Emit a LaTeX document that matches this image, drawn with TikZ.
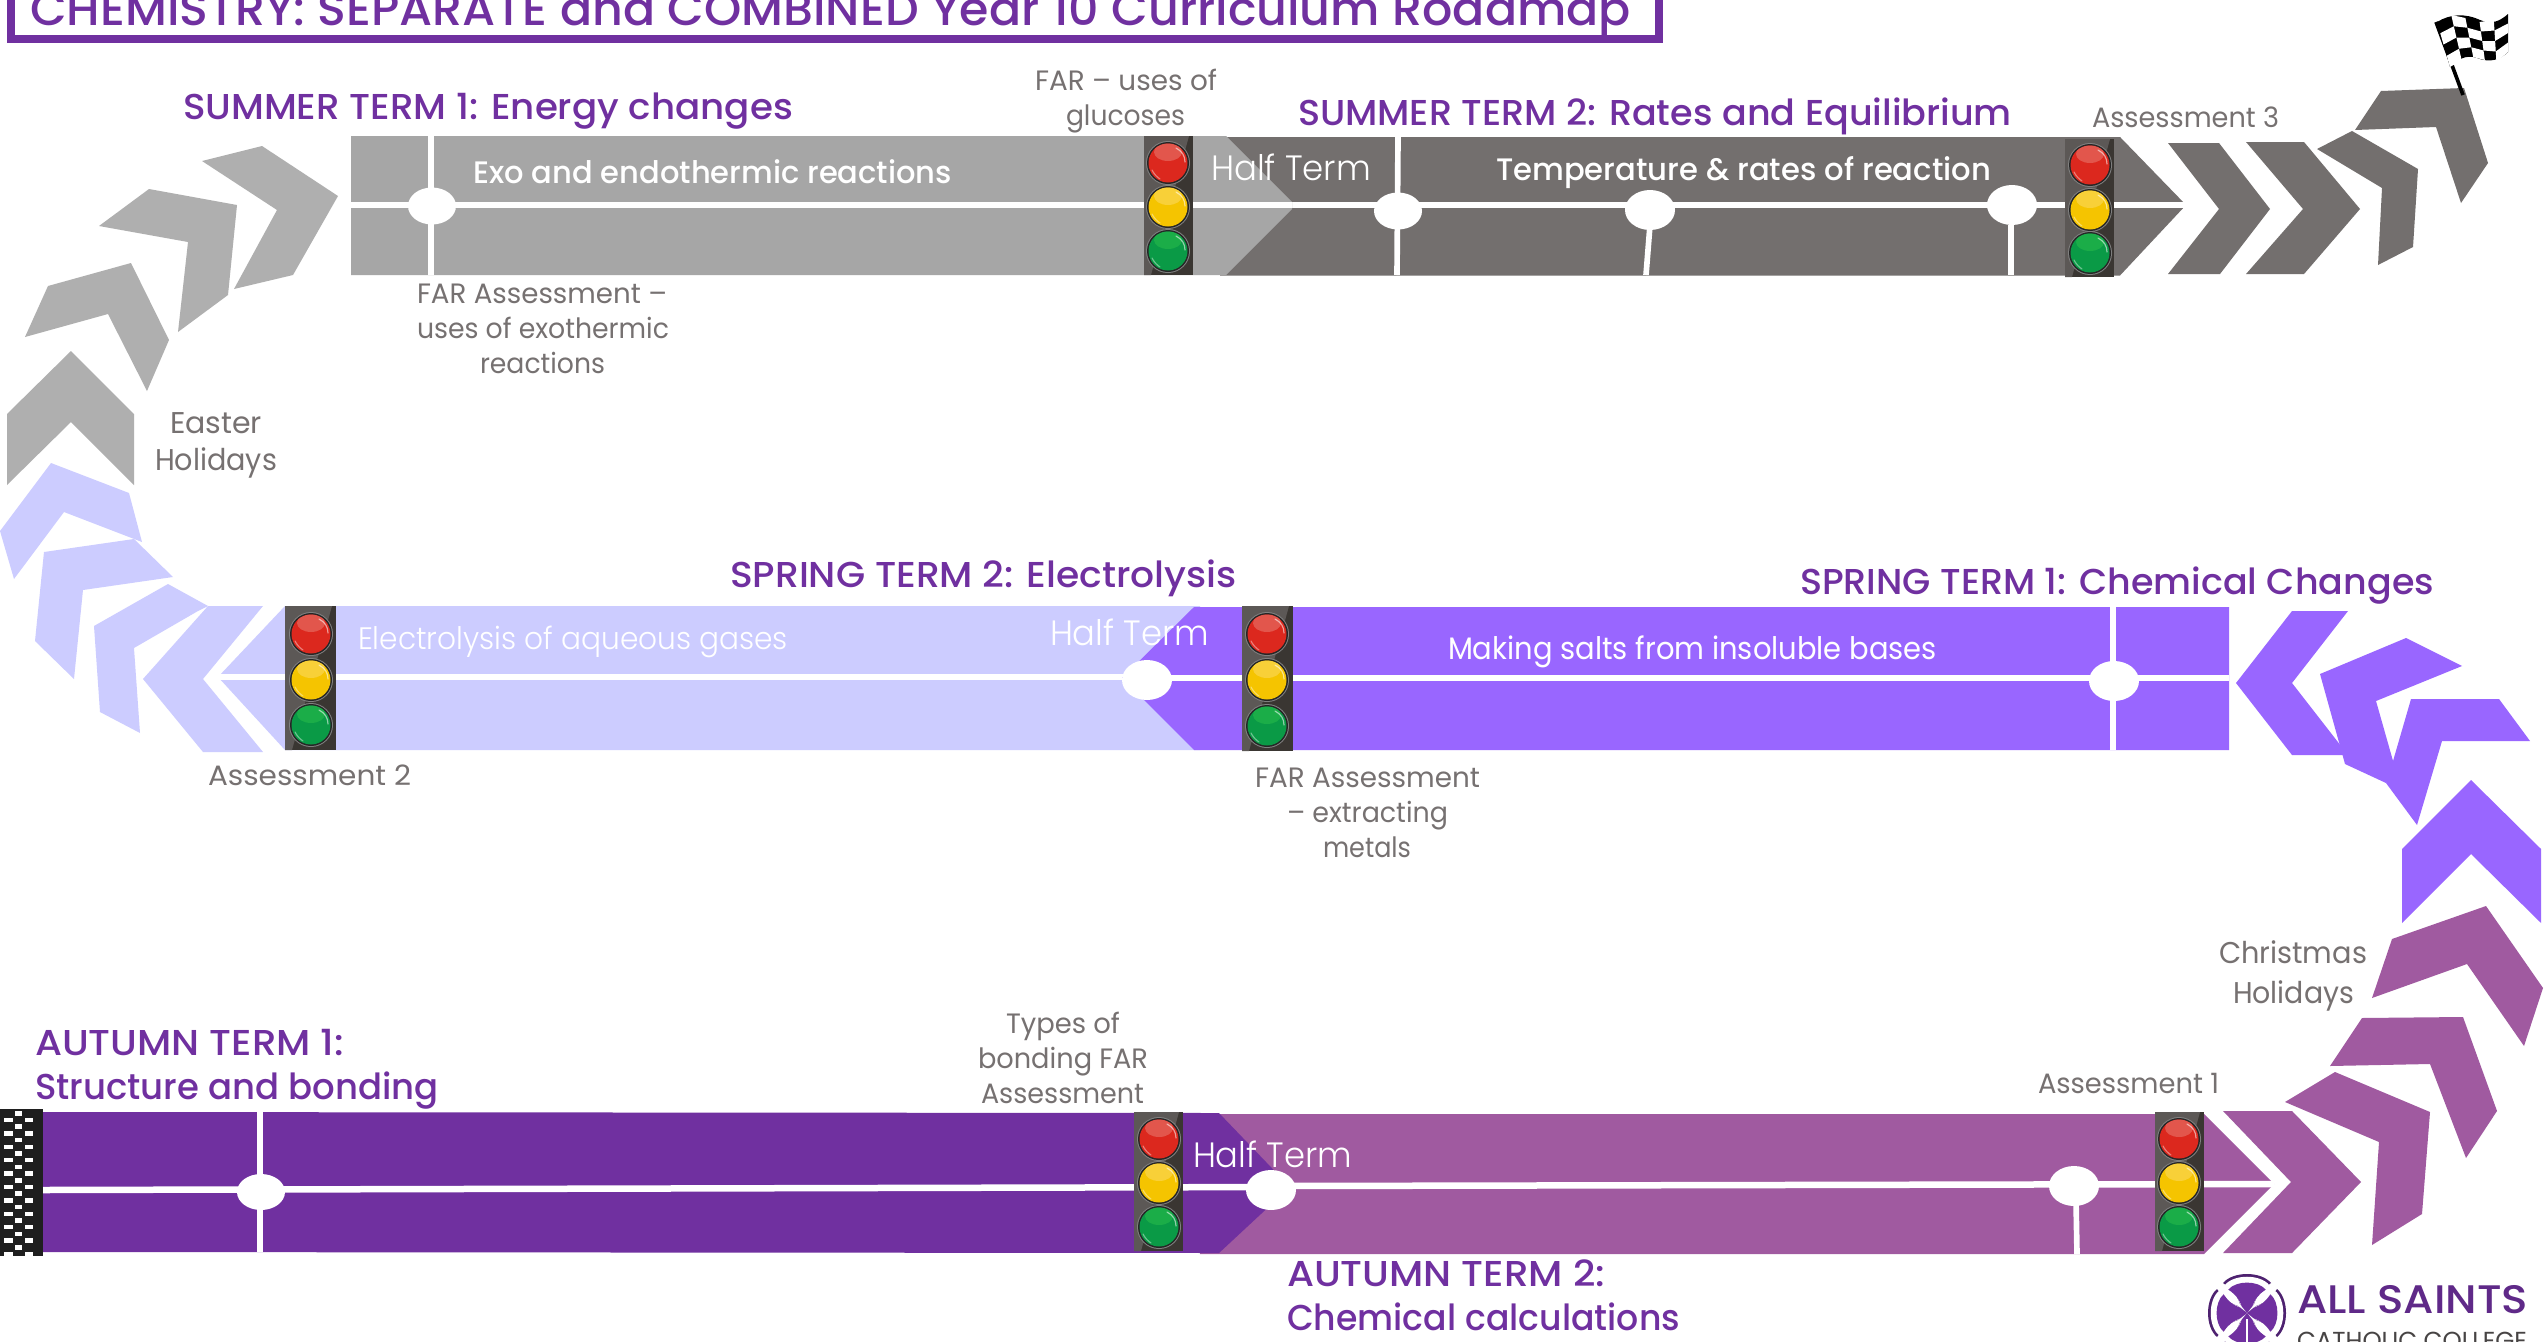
\documentclass[tikz,border=0pt]{standalone}
\usepackage{fontspec}
\usepackage{graphicx}
\setmainfont{Poppins}
\newfontfamily\medfont{Poppins Medium}
\newfontfamily\lightfont{Poppins Light}
\newlength{\pxu}\setlength{\pxu}{0.03cm}
\definecolor{headc}{HTML}{7030A0}
\definecolor{notec}{HTML}{767171}
\definecolor{sumA}{HTML}{A6A6A6}
\definecolor{chevA}{HTML}{AFAFAF}
\definecolor{sumB}{HTML}{736F6E}
\definecolor{sprA}{HTML}{CCCCFF}
\definecolor{sprB}{HTML}{9966FF}
\definecolor{autA}{HTML}{7030A0}
\definecolor{autB}{HTML}{A05AA0}
\definecolor{tlLeft}{HTML}{5C5856}
\definecolor{tlRight}{HTML}{3A3632}
\tikzset{
  lbl/.style={anchor=base west,inner sep=0pt,outer sep=0pt},
  heading/.style={lbl,text=headc,font=\medfont\fontsize{30.7pt}{32pt}\selectfont},
  note/.style={lbl,text=notec,font=\fontsize{23.9pt}{25pt}\selectfont},
  bigNote/.style={lbl,text=notec,font=\fontsize{25.6pt}{27pt}\selectfont},
  whiteMed/.style={lbl,text=white,font=\medfont\fontsize{26.5pt}{28pt}\selectfont},
  whiteReg/.style={lbl,text=white,font=\fontsize{26.5pt}{28pt}\selectfont},
  whiteLight/.style={lbl,text=white,font=\lightfont\fontsize{26.5pt}{28pt}\selectfont},
  halfterm/.style={lbl,text=white,font=\lightfont\fontsize{30pt}{32pt}\selectfont},
  gapline/.style={draw=white,line width=1.95mm},
  thinline/.style={draw=white,line width=1.7mm},
  stop/.style={fill=white,draw=none},
}
% text fitted to a measured width: name, left, right, baseline, text
\newcommand{\fitlbl}[6]{\node[#1] (#2) at (#3,{#5+1}) {\resizebox{\fpeval{#4-#3}\pxu}{\height}{#6}};}
% traffic light: left, right, top, bottom, centre x, three light ys
\newcommand{\tlight}[8]{%
  \fill[tlRight] (#1,#3) rectangle (#2,#4);
  \fill[tlLeft] (#1,#3) -- ({#2-4},#3) -- ({#1+7},#4) -- (#1,#4) -- cycle;
  \lamp{#5}{#6}{DC281E}{E2564C}
  \lamp{#5}{#7}{F5C400}{F8D038}
  \lamp{#5}{#8}{0A9A46}{1BAD48}
}
\newcommand{\lamp}[4]{%
  \fill[gray] (#1,#2) circle [radius=22];
  \fill[black!85] (#1,#2) circle [radius=21];
  \definecolor{lampc}{HTML}{#3}\definecolor{lamph}{HTML}{#4}
  \fill[lampc] (#1,#2) circle [radius=19.5];
  \begin{scope}
    \clip (#1,#2) circle [radius=19.5];
    \fill[lamph] (#1,{#2-11}) ellipse [x radius=14,y radius=9];
  \end{scope}
  \draw[white,opacity=.55,line width=0.35mm,line cap=round] ({#1+8},{#2-15}) .. controls ({#1+14},{#2-12}) and ({#1+17},{#2-7}) .. ({#1+17},{#2-1});
  \draw[white,opacity=.4,line width=0.35mm,line cap=round] ({#1-16},{#2+7}) .. controls ({#1-14},{#2+11}) and ({#1-11},{#2+14}) .. ({#1-8},{#2+16});
}
% flag cloth point: column boundary index, row position
\newcommand{\flagpt}[2]{({2437+14.2*#1+(13-2.6*#1)*#2/4},{{22,15,18,22,20,14}[#1]+({67,60,57,60,62,52}[#1]-{22,15,18,22,20,14}[#1])*#2/4})}
% arm of the college cross, pointing up from the origin
\newcommand{\crossarm}{(0,0) -- (-7,-9) .. controls (-10,-18) and (-15,-24) .. (-24,-30) .. controls (-14,-42) and (14,-42) .. (24,-30) .. controls (15,-24) and (10,-18) .. (7,-9) -- cycle}
\begin{document}
\begin{tikzpicture}[x=0.03cm,y=-0.03cm]
\useasboundingbox (0,0) rectangle (2547,1341);
\clip (0,0) rectangle (2547,1341);
\fill[white] (0,0) rectangle (2547,1341);

% title
\draw[headc,line width=2.4mm] (11,-40) rectangle (1658.5,38.5);
\fitlbl{lbl,text=headc,font=\medfont\fontsize{39.5pt}{41pt}\selectfont}{title}{30}{1631}{24}{CHEMISTRY: SEPARATE and COMBINED Year 10 Curriculum Roadmap}

% ---------- SUMMER ----------
\fill[chevA] (202,161)--(262,146)--(338,196)--(293,275)--(234,289)--(277,210)--cycle;
\fill[chevA] (99,226)--(149,189)--(237,205)--(228,295)--(178,332)--(188,242)--cycle;
\fill[chevA] (25,337)--(48,286)--(131,263)--(169,340)--(147,391)--(108,314)--cycle;
\fill[chevA] (7,414)--(71,351)--(134,414)--(134,485)--(71,422)--(7,485)--cycle;

\fill[sumB] (1220,137)--(2120,137)--(2186,205)--(2120,275.5)--(1220,275.5)--cycle;
\draw[gapline] (1290,205)--(2200,205);
\fill[sumA] (351,136)--(1226,136)--(1292,202)--(1292,209)--(1226,275)--(351,275)--cycle;
\draw[gapline] (351,205)--(1292,205);
\draw[thinline] (431,136)--(431,275);
\fill[stop] (432,206) ellipse [x radius=24,y radius=18.5];
\draw[thinline] (1398,137)--(1397,275);
\fill[stop] (1398,211) ellipse [x radius=24,y radius=18.5];
\draw[thinline] (1650,225)--(1646,275);
\fill[stop] (1650,210) ellipse [x radius=25,y radius=20];
\draw[thinline] (2011,225)--(2011,275);
\fill[stop] (2012,205) ellipse [x radius=25,y radius=20];
\tlight{1144}{1193}{136}{275}{1168}{163}{207}{251}
\tlight{2065}{2114}{139}{277}{2090}{165}{210}{253}

\fill[sumB] (2168,143)--(2219,143)--(2270,209)--(2220,274)--(2168,274)--(2219,209)--cycle;
\fill[sumB] (2246,142)--(2304,142)--(2360,209)--(2304,274)--(2246,274)--(2303,209)--cycle;
\fill[sumB] (2317,149)--(2352,131)--(2418,169)--(2413,247)--(2378,265)--(2382,188)--cycle;
\fill[sumB] (2355,130)--(2381,91)--(2464,88)--(2488,163)--(2461,203)--(2436,127)--cycle;

% flag
\draw[black,line width=1.1mm] (2436,22)--(2463,95);
\fill[black] (2437,22) .. controls (2450,14) and (2465,13) .. (2480,20) .. controls (2492,25) and (2500,21) .. (2508,14) -- (2508,52) .. controls (2500,60) and (2490,63) .. (2477,58) .. controls (2466,54) and (2457,60) .. (2450,67) -- cycle;
\foreach \c in {0,...,4}{
  \foreach \r in {0,...,3}{
    \pgfmathtruncatemacro{\odd}{mod(\c+\r,2)}
    \pgfmathtruncatemacro{\cn}{\c+1}
    \pgfmathtruncatemacro{\rn}{\r+1}
    \ifnum\odd=1
      \fill[white] \flagpt{\c}{\r} -- \flagpt{\cn}{\r} -- \flagpt{\cn}{\rn} -- \flagpt{\c}{\rn} -- cycle;
    \fi
  }
}

% ---------- SPRING ----------
\fill[sprA] (0,531)--(51,463)--(129,493)--(142,542)--(64,512)--(14,579)--cycle;
\fill[sprA] (44,552)--(134,539)--(173,577)--(83,590)--(74,679)--(35,641)--cycle;
\fill[sprA] (94,626)--(168,584)--(208,606)--(198,611)--(134,648)--(140,733)--(100,712)--cycle;
\fill[sprA] (143,679)--(208,606)--(263,606)--(203,679)--(263,752)--(203,752)--cycle;

\fill[sprA] (218,677)--(285,606)--(1200,606)--(1200,750)--(285,750)--cycle;
\draw[gapline] (218,677)--(1130,677);
\fill[sprB] (1122,678)--(1194,607)--(2229,607)--(2229,750)--(1194,750)--cycle;
\draw[gapline] (1130,678)--(2229,678);
\draw[thinline] (2113,607)--(2113,750);
\fill[stop] (2114,681) ellipse [x radius=25,y radius=20];
\fill[stop] (1147,680) ellipse [x radius=25,y radius=20];
\tlight{285}{336}{606}{750}{311}{634}{680}{725}
\tlight{1242}{1293}{606}{751}{1267}{634}{680}{726}

\fill[sprB] (2236,683)--(2292,611)--(2348,611)--(2292,683)--(2348,755)--(2292,755)--cycle;
\fill[sprB] (2320,674)--(2406,638)--(2462,666)--(2376,701)--(2395,768)--(2386,783)--(2345,764)--cycle;
\fill[sprB] (2411,699)--(2499,699)--(2530,741)--(2442,741)--(2417,825)--(2386,783)--(2393,761)--cycle;
\fill[sprB] (2402,849)--(2471,780)--(2541,849)--(2541,923)--(2471,854)--(2402,923)--cycle;

% ---------- AUTUMN ----------
\fill[autB] (2392,939)--(2486,906)--(2543,988)--(2524,1046)--(2467,964)--(2372,998)--cycle;
\fill[autB] (2330,1066)--(2362,1018)--(2463,1017)--(2497,1111)--(2466,1158)--(2430,1064)--cycle;
\fill[autB] (2285,1102)--(2335,1072)--(2430,1112)--(2422,1214)--(2372,1245)--(2379,1142)--cycle;
\fill[autB] (2223,1111)--(2292,1111)--(2361,1182)--(2292,1253)--(2223,1253)--(2291,1182)--cycle;

\fill[autB] (1200,1114)--(2204,1114)--(2274,1184)--(2204,1254)--(1200,1254)--cycle;
\draw[gapline] (1280,1186)--(2274,1184);
\fill[autA] (43,1112)--(1219,1113)--(1290,1187)--(1219,1253)--(43,1252)--cycle;
\draw[gapline] (43,1190)--(1285,1187);
\draw[thinline] (260,1112)--(260,1252);
\fill[stop] (261,1192) ellipse [x radius=24,y radius=18];
\fill[stop] (1271,1190) ellipse [x radius=25,y radius=20];
\draw[thinline] (2076,1200)--(2077,1254);
\fill[stop] (2074,1186) ellipse [x radius=25,y radius=20];
\tlight{1134}{1183}{1112}{1251}{1159}{1139}{1183}{1227}
\tlight{2155}{2204}{1112}{1251}{2179}{1139}{1183}{1227}

% chequered start strip
\fill[black!88] (0,1109) rectangle (43,1256);
\foreach \r in {0,...,10}{
  \pgfmathsetmacro{\ya}{1111+\r*13.4}
  \fill[white] (14.5,\ya) rectangle (22,{\ya+4.5});
  \fill[white] (4,{\ya+6.7}) rectangle (13,{\ya+11.2});
  \fill[white] (25,{\ya+6.7}) rectangle (33,{\ya+11.2});
}

% logo
\begin{scope}[shift={(2247,1313)}]
  \foreach \a in {0,90,180,270}{\fill[headc!70!black,rotate=\a] \crossarm;}
  \foreach \a in {0,90,180,270}{\fill[white,rotate=\a,scale=0.93] \crossarm;}
  \foreach \a in {0,90,180,270}{\fill[headc,rotate=\a,scale=0.78] \crossarm;}
  \draw[white,line width=0.4mm] (0,6)--(0,40);
\end{scope}
\fitlbl{lbl,text=headc!85!black,font=\medfont\fontsize{34pt}{36pt}\selectfont}{logoA}{2297}{2528}{1312}{ALL SAINTS}
\fitlbl{lbl,text=notec!60!black,font=\fontsize{21pt}{23pt}\selectfont}{logoB}{2297}{2527}{1348}{CATHOLIC COLLEGE}

% labels
\fitlbl{heading}{s1}{183}{793}{118}{SUMMER TERM 1: Energy changes}
\fitlbl{heading}{s2}{1298}{2012}{124}{SUMMER TERM 2: Rates and Equilibrium}
\fitlbl{whiteMed}{s1t}{473}{952}{182}{Exo and endothermic reactions}
\fitlbl{whiteMed}{s2t}{1496}{1991}{179}{Temperature \& rates of reaction}
\fitlbl{halfterm}{ht1}{1211}{1371}{179}{Half Term}
\fitlbl{note}{n1}{1035}{1217}{89}{FAR – uses of}
\fitlbl{note}{n2}{1066}{1185}{124}{glucoses}
\fitlbl{note}{n3}{417}{667}{302}{FAR Assessment –}
\fitlbl{note}{n4}{417}{669}{337}{uses of exothermic}
\fitlbl{note}{n5}{480}{605}{372}{reactions}
\fitlbl{bigNote}{e1}{170}{262}{432}{Easter}
\fitlbl{bigNote}{e2}{155}{277}{469}{Holidays}
\fitlbl{note}{a3}{2092}{2279}{126}{Assessment 3}

\fitlbl{heading}{p2}{730}{1237}{586}{SPRING TERM 2: Electrolysis}
\fitlbl{heading}{p1}{1800}{2434}{593}{SPRING TERM 1: Chemical Changes}
\fitlbl{whiteLight}{p2t}{358}{788}{648}{Electrolysis of aqueous gases}
\fitlbl{halfterm}{ht2}{1050}{1209}{644}{Half Term}
\fitlbl{whiteReg}{p1t}{1448}{1937}{658}{Making salts from insoluble bases}
\fitlbl{note}{a2}{208}{411}{784}{Assessment 2}
\fitlbl{note}{n6}{1255}{1480}{786}{FAR Assessment}
\fitlbl{note}{n7}{1287}{1448}{821}{– extracting}
\fitlbl{note}{n8}{1323}{1411}{856}{metals}

\fitlbl{heading}{u1}{35}{344}{1054}{AUTUMN TERM 1:}
\fitlbl{heading}{u1b}{35}{439}{1098}{Structure and bonding}
\fitlbl{note}{n9}{1006}{1120}{1032}{Types of}
\fitlbl{note}{n10}{978}{1148}{1067}{bonding FAR}
\fitlbl{note}{n11}{981}{1144}{1102}{Assessment}
\fitlbl{halfterm}{ht3}{1193}{1352}{1166}{Half Term}
\fitlbl{heading}{u2}{1287}{1605}{1285}{AUTUMN TERM 2:}
\fitlbl{heading}{u2b}{1287}{1680}{1329}{Chemical calculations}
\fitlbl{note}{a1}{2038}{2219}{1092}{Assessment 1}
\fitlbl{bigNote}{c1}{2219}{2367}{962}{Christmas}
\fitlbl{bigNote}{c2}{2233}{2354}{1002}{Holidays}
\end{tikzpicture}
\end{document}
